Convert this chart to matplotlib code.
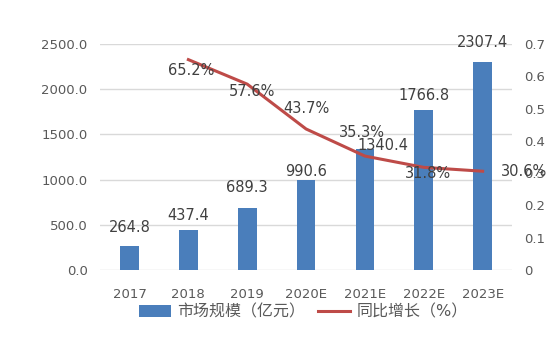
import numpy as np
import matplotlib.pyplot as plt

plt.rcParams['font.family'] = ['DejaVu Sans', 'Noto Sans CJK SC']

years = ['2017', '2018', '2019', '2020E', '2021E', '2022E', '2023E']
market = [264.8, 437.4, 689.3, 990.6, 1340.4, 1766.8, 2307.4]
growth = [None, 0.652, 0.576, 0.437, 0.353, 0.318, 0.306]

bar_color = '#4a7ebb'
line_color = '#be4b48'
text_color = '#595959'

fig = plt.figure(figsize=(5.5, 3.37), dpi=100)
ax = fig.add_axes([0.182, 0.199, 0.749, 0.67])
x = np.arange(len(years))

ax.bar(x, market, width=0.32, color=bar_color, zorder=2, label='市场规模（亿元）')
ax.set_ylim(0, 2500)
ax.set_xlim(-0.5, len(years) - 0.5)
ax.set_yticks(np.arange(0, 2501, 500))
ax.set_yticklabels([f'{v:.1f}' for v in np.arange(0, 2501, 500)])
ax.grid(axis='y', color='#d9d9d9', linewidth=1, zorder=0)
ax.set_xticks(x)
ax.set_xticklabels(years)
for s in ax.spines.values():
    s.set_visible(False)
ax.tick_params(length=0, colors=text_color, labelsize=9.5)
ax.tick_params(axis='x', pad=13)
ax.tick_params(axis='y', pad=9)

# value labels above the bars, nudged like the source layout
bar_offsets = [(0, 8), (0, 5), (0, 9), (0, 1), (13, -3), (0, 5), (0, 8)]
for xi, v, off in zip(x, market, bar_offsets):
    ax.annotate(f'{v:.1f}', (xi, v), xytext=off, textcoords='offset points',
                ha='center', va='bottom', fontsize=10.5, color='#404040',
                annotation_clip=False, zorder=4)

ax2 = ax.twinx()
gx = [xi for xi, g in zip(x, growth) if g is not None]
gy = [g for g in growth if g is not None]
ax2.plot(gx, gy, color=line_color, linewidth=2.2, zorder=3, label='同比增长（%）')
ax2.set_ylim(0, 0.7)
ax2.set_yticks(np.arange(0, 0.71, 0.1))
ax2.set_yticklabels(['0'] + [f'{v:.1f}' for v in np.arange(0.1, 0.71, 0.1)])
for s in ax2.spines.values():
    s.set_visible(False)
ax2.tick_params(length=0, colors=text_color, labelsize=9.5, pad=9)

pct_offsets = [(2, -7.5), (3.5, -5), (0, 14.5), (-2, 17), (3, -4.5), (30, 0)]
for xi, g, off in zip(gx, gy, pct_offsets):
    ax2.annotate(f'{g * 100:.1f}%', (xi, g), xytext=off, textcoords='offset points',
                 ha='center', va='center', fontsize=10.5, color='#404040',
                 annotation_clip=False, zorder=5)

h1, l1 = ax.get_legend_handles_labels()
h2, l2 = ax2.get_legend_handles_labels()
fig.legend(h1 + h2, l1 + l2, loc='center', bbox_to_anchor=(0.551, 0.074),
           ncol=2, frameon=False, fontsize=11.5, handlelength=2.0,
           columnspacing=0.8, handletextpad=0.4, labelcolor=text_color)

fig.savefig('out.png', dpi=100)
